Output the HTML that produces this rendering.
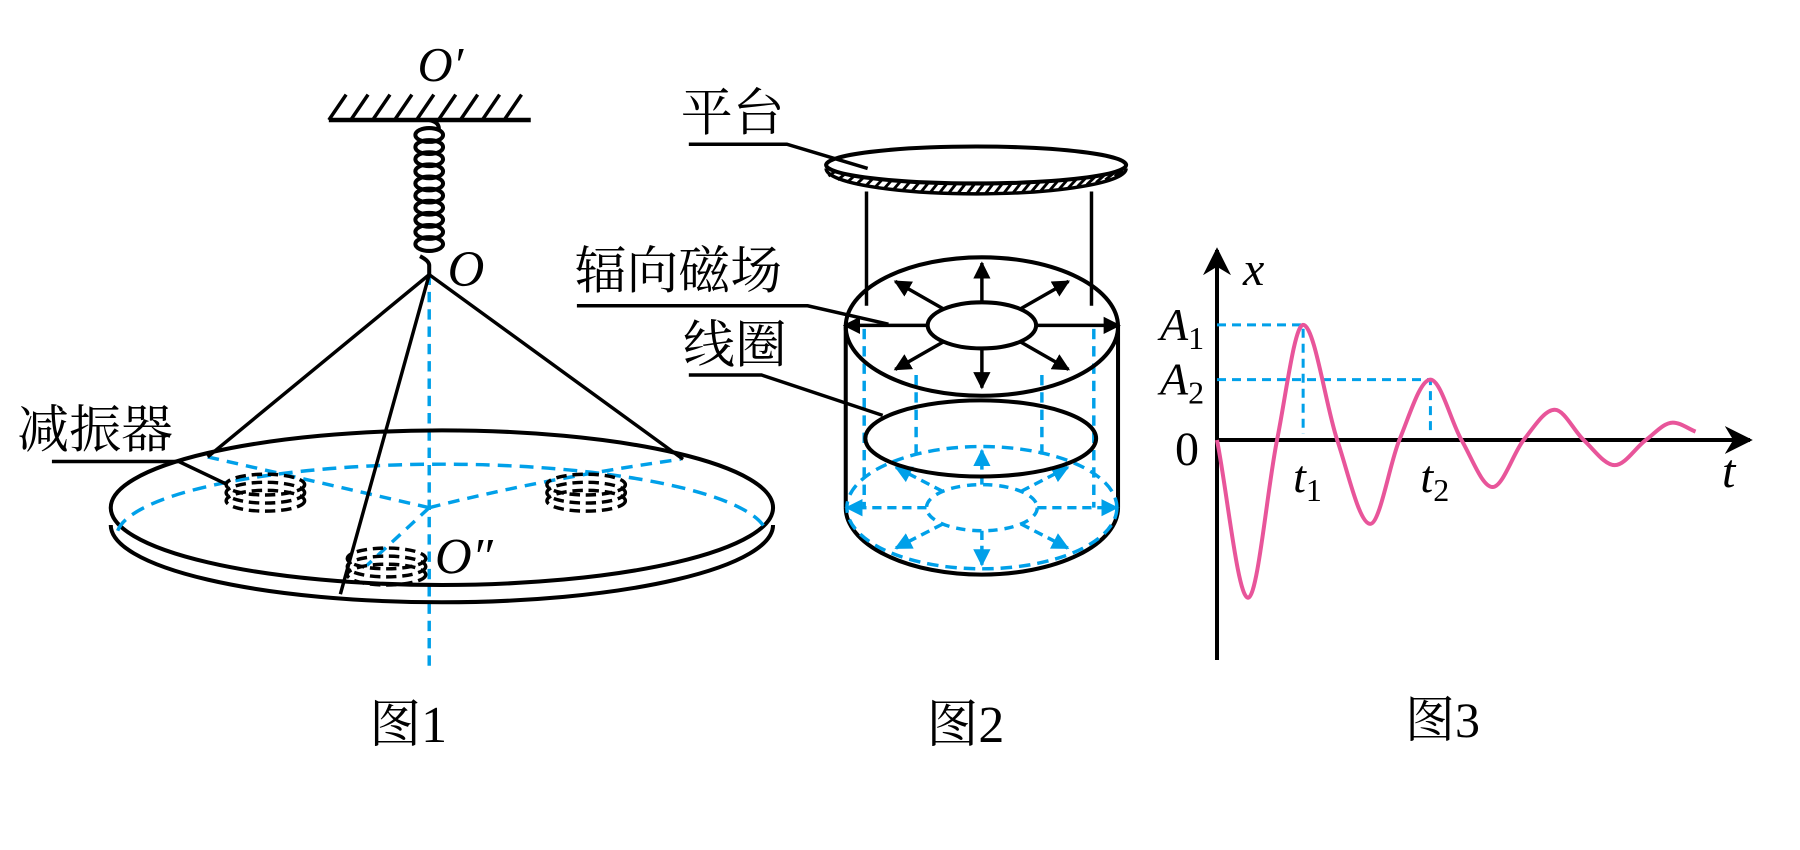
<!DOCTYPE html>
<html><head><meta charset="utf-8"><style>
html,body{margin:0;padding:0;background:#fff;}
svg{display:block;}
.cn{font-family:"Liberation Serif","Noto Serif CJK SC","Noto Sans CJK SC",serif;}
.it{font-family:"Liberation Serif",serif;font-style:italic;}
.rm{font-family:"Liberation Serif",serif;}
</style></head><body>
<svg id="s" width="1800" height="850" viewBox="0 0 1800 850" xmlns="http://www.w3.org/2000/svg">
<defs>
<marker id="ab" viewBox="0 0 10 10" refX="9" refY="5" markerWidth="5" markerHeight="5" orient="auto"><path d="M0,0 L10,5 L0,10 z" fill="#000"/></marker>
<marker id="ac" viewBox="0 0 10 10" refX="9" refY="5" markerWidth="5" markerHeight="5" orient="auto"><path d="M0,0 L10,5 L0,10 z" fill="#00a0e9"/></marker>
<marker id="ax" viewBox="0 0 10 10" refX="9" refY="5" markerWidth="7" markerHeight="7" orient="auto"><path d="M0,0 L10,5 L0,10 L3,5 z" fill="#000"/></marker>
</defs>
<g transform="scale(1.1538)">
  <line x1="285" y1="104" x2="460" y2="104" stroke="#000" stroke-width="4"/>
  <g id="hatch1" stroke="#000" stroke-width="3"></g>
  <text x="362" y="70" class="it" font-size="42">O′</text>
  <g id="spring" fill="none" stroke="#000" stroke-width="3.5"></g>
  <text x="388" y="248" class="it" font-size="44">O</text>
  <line x1="372" y1="238" x2="372" y2="580" stroke="#00a0e9" stroke-width="3" stroke-dasharray="9,6"/>
  <path d="M96,455 A287,67 0 0 0 670,455" fill="none" stroke="#000" stroke-width="3.5"/>
  <ellipse cx="383" cy="440" rx="287" ry="67" fill="none" stroke="#000" stroke-width="3.5"/>
  <path d="M102,460 A282,63 0 0 1 664,460" fill="none" stroke="#00a0e9" stroke-width="3" stroke-dasharray="12,7"/>
  <g stroke="#00a0e9" stroke-width="3" stroke-dasharray="10,7" fill="none">
    <line x1="372" y1="440" x2="180" y2="396"/>
    <path d="M372,440 Q470,415 590,398"/>
    <line x1="372" y1="440" x2="318" y2="490"/>
  </g>
  <g id="dampers" fill="none" stroke="#000" stroke-width="3" stroke-dasharray="9,5"></g>
  <g stroke="#000" stroke-width="3">
    <line x1="372" y1="238" x2="180" y2="396"/>
    <line x1="372" y1="238" x2="592" y2="398"/>
    <line x1="372" y1="238" x2="295" y2="515"/>
  </g>
  <polyline points="45,400 155,400 197,420" fill="none" stroke="#000" stroke-width="3"/>
  <text x="15" y="388" class="cn" font-size="45">减振器</text>
  <text x="377" y="497" class="it" font-size="44">O″</text>
  <text x="320" y="643" class="cn" font-size="45">图1</text>
</g>
<g transform="scale(1.1538)">
  <path d="M716,146 A130,22 0 0 0 976,146" fill="none" stroke="#000" stroke-width="3"/>
  <g id="phatch" stroke="#000" stroke-width="2.5"></g>
  <ellipse cx="846" cy="143" rx="130" ry="16" fill="#fff" stroke="#000" stroke-width="3.5"/>
  <line x1="751" y1="166" x2="751" y2="265" stroke="#000" stroke-width="3"/>
  <line x1="946" y1="166" x2="946" y2="265" stroke="#000" stroke-width="3"/>
  <polyline points="597,125 682,125 752,146" fill="none" stroke="#000" stroke-width="3"/>
  <text x="590" y="113" class="cn" font-size="45">平台</text>
  <line x1="733" y1="283" x2="733" y2="440" stroke="#000" stroke-width="3.5"/>
  <line x1="969" y1="283" x2="969" y2="440" stroke="#000" stroke-width="3.5"/>
  <path d="M733,440 A118,58 0 0 0 969,440" fill="none" stroke="#000" stroke-width="3.5"/>
  <g stroke="#00a0e9" stroke-width="3" stroke-dasharray="9,6">
    <line x1="749" y1="285" x2="749" y2="440"/>
    <line x1="794" y1="325" x2="794" y2="400"/>
    <line x1="903" y1="325" x2="903" y2="400"/>
    <line x1="948" y1="285" x2="948" y2="440"/>
  </g>
  <ellipse cx="851" cy="440" rx="117" ry="53" fill="none" stroke="#00a0e9" stroke-width="3" stroke-dasharray="10,6"/>
  <ellipse cx="851" cy="440" rx="48" ry="20" fill="none" stroke="#00a0e9" stroke-width="3" stroke-dasharray="8,6"/>
  <g id="barrows" stroke="#00a0e9" stroke-width="3" stroke-dasharray="8,5"></g>
  <ellipse cx="850" cy="380" rx="100" ry="33" fill="none" stroke="#000" stroke-width="3.5"/>
  <ellipse cx="851" cy="283" rx="118" ry="60" fill="none" stroke="#000" stroke-width="3.5"/>
  <ellipse cx="851" cy="282" rx="47" ry="20" fill="none" stroke="#000" stroke-width="3.5"/>
  <g id="tarrows" stroke="#000" stroke-width="3"></g>
  <polyline points="500,265 700,265 770,281" fill="none" stroke="#000" stroke-width="3"/>
  <text x="498" y="250" class="cn" font-size="45">辐向磁场</text>
  <polyline points="597,325 660,325 765,360" fill="none" stroke="#000" stroke-width="3"/>
  <text x="592" y="314" class="cn" font-size="45">线圈</text>
  <text x="803" y="643" class="cn" font-size="45">图2</text>
</g>
<g id="chart">
  <line x1="1217" y1="660" x2="1217" y2="250" stroke="#000" stroke-width="4" marker-end="url(#ax)"/>
  <line x1="1217" y1="440" x2="1750" y2="440" stroke="#000" stroke-width="4" marker-end="url(#ax)"/>
  <text x="1243" y="285" class="it" font-size="48">x</text>
  <text x="1722" y="487" class="it" font-size="48">t</text>
  <text x="1175" y="465" class="rm" font-size="48">0</text>
  <g id="dash" stroke="#00a0e9" stroke-width="3" stroke-dasharray="9,6" fill="none"></g>
  <path id="curve" fill="none" stroke="#e8559a" stroke-width="4"/>
  <g id="lbls"></g>
  <text x="1405" y="737" class="cn" font-size="50">图3</text>
</g>
</svg>
<script>
var NS="http://www.w3.org/2000/svg";
function mk(p,tag,a){var e=document.createElementNS(NS,tag);for(var k in a)e.setAttribute(k,a[k]);p.appendChild(e);return e;}
// chart data
var times=[0,25,48.3,69.3,96.7,123.3,146.7,171.7,196.7,221.7,246.7,271.7,295,320,345,366.7,385];
var disp=[0,-156.7,0,114.3,0,-83.3,0,60,0,-46.7,0,30,0,-25,0,17.3,8.3];
var peakIdx=[3,7];
var peakNames=["1","2"];
function xS(t){return 1217+1.243*t;}
function yS(v){return 440-1.007*v;}
(function(){
 var n=times.length,m=[];
 for(var i=0;i<n;i++){
  if(i==0){m.push((disp[1]-disp[0])/(times[1]-times[0]));continue;}
  if(i==n-1){m.push((disp[i]-disp[i-1])/(times[i]-times[i-1]));continue;}
  var a=disp[i]-disp[i-1],b=disp[i+1]-disp[i];
  if(a*b<=0)m.push(0);else m.push((disp[i+1]-disp[i-1])/(times[i+1]-times[i-1]));
 }
 var d="M"+xS(times[0])+","+yS(disp[0]);
 for(var i=0;i<n-1;i++){
  var h=(times[i+1]-times[i])/3;
  d+=" C"+xS(times[i]+h)+","+yS(disp[i]+m[i]*h)+" "+xS(times[i+1]-h)+","+yS(disp[i+1]-m[i+1]*h)+" "+xS(times[i+1])+","+yS(disp[i+1]);
 }
 document.getElementById('curve').setAttribute('d',d);
 var g=document.getElementById('dash'),L=document.getElementById('lbls');
 peakIdx.forEach(function(pi,k){
  var px=xS(times[pi]),py=yS(disp[pi]);
  var l=mk(g,'path',{d:"M1217,"+py+" H"+px+" V434"});
  
  
  var ta=mk(L,'text',{x:1160,y:py+15,'class':'it','font-size':46});
  
  
  ta.innerHTML='A<tspan class="rm" font-style="normal" font-size="32" dy="9">'+peakNames[k]+'</tspan>';
  var tt=mk(L,'text',{x:px-10,y:492,'class':'it','font-size':46});
  
  
  tt.innerHTML='t<tspan class="rm" font-style="normal" font-size="32" dy="9">'+peakNames[k]+'</tspan>';
 });
})();
// figure 1 & 2 details
(function(){
 var h=document.getElementById('hatch1');
 for(var x=300;x<=455;x+=19)mk(h,'line',{x1:x-15,y1:104,x2:x,y2:82});
 var s=document.getElementById('spring');
 mk(s,'path',{d:"M372,104 Q382,106 380,114"});
 for(var i=0;i<10;i++){var y=117+i*10.5;mk(s,'ellipse',{cx:372,cy:y,rx:12,ry:6});}
 mk(s,'path',{d:"M364,222 Q372,226 372,230 L372,238"});
 var dg=document.getElementById('dampers');
 [[230,420],[508,420],[335,484]].forEach(function(p){
  for(var j=0;j<3;j++)mk(dg,'ellipse',{cx:p[0],cy:p[1]+j*7,rx:34,ry:9});
 });
 var ph=document.getElementById('phatch');
 for(var x=722;x<=972;x+=8){var t=(x-846)/130;var r=Math.sqrt(Math.max(0,1-t*t));var y=143+16*r;var y2=146+22*r;mk(ph,'line',{x1:x-4,y1:y2,x2:x+3,y2:y});}
 var ta=document.getElementById('tarrows');
 for(var k=0;k<8;k++){var a=k*Math.PI/4;var c=Math.cos(a),sn=Math.sin(a);
  var x1=851+47*c,y1=282+20*sn,f=(k%4==0)?1:0.9;var x2=851+118*c*f,y2=282+60*sn*f;
  if(k%4==0){x2=851+119*c;}
  mk(ta,'line',{x1:x1,y1:y1,x2:x2,y2:y2,'marker-end':'url(#ab)'});}
 var ba=document.getElementById('barrows');
 for(var k=0;k<8;k++){var a=k*Math.PI/4;var c=Math.cos(a),sn=Math.sin(a);
  var x1=851+48*c,y1=440+20*sn,f=(k%4==0)?1:0.9;var x2=851+117*c*f,y2=440+55*sn*f;
  mk(ba,'line',{x1:x1,y1:y1,x2:x2,y2:y2,'marker-end':'url(#ac)'});}
})();
</script>
</body></html>
